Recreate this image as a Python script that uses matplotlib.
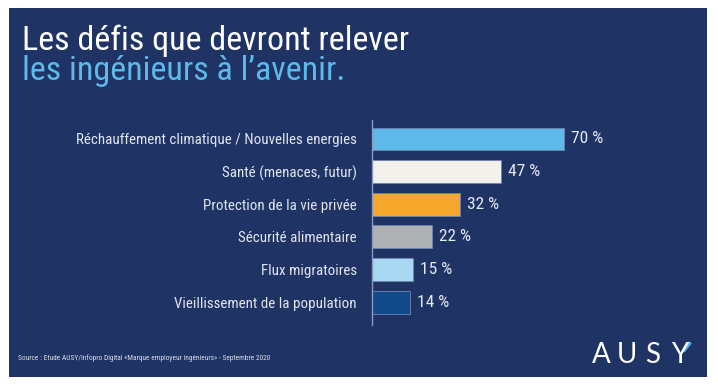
import matplotlib.pyplot as plt
from matplotlib import font_manager
from matplotlib.lines import Line2D
from matplotlib.patches import Rectangle

categories = [
    "Réchauffement climatique / Nouvelles energies",
    "Santé (menaces, futur)",
    "Protection de la vie privée",
    "Sécurité alimentaire",
    "Flux migratoires",
    "Vieillissement de la population",
]
values = [70, 47, 32, 22, 15, 14]
bar_colors = ["#5cb9e9", "#f3f1ec", "#f5a62b", "#afb0b4", "#a9d9f2", "#114a8b"]

navy = "#1f3364"
W, H = 718, 388

# pick a narrow face if one is installed
installed = {f.name for f in font_manager.fontManager.ttflist}
narrow = [n for n in ["Roboto Condensed", "Liberation Sans Narrow", "Open Sans Condensed",
                      "Roboto", "DejaVu Sans"] if n in installed][0]
font = [narrow, "DejaVu Sans"]
logo_font = "Lato" if "Lato" in installed else "DejaVu Sans"

fig = plt.figure(figsize=(W / 100, H / 100), dpi=100)
fig.patch.set_facecolor("white")
fig.patches.append(Rectangle((9 / W, 1 - 377 / H), (707 - 9) / W, (377 - 8) / H,
                             transform=fig.transFigure, facecolor=navy,
                             edgecolor="none", zorder=-5))

# axes placed in pixel coordinates of the reference
x0, x1 = 372, 372 + 100 * 2.743
y_top, y_bot = 120, 325
ax = fig.add_axes([x0 / W, 1 - y_bot / H, (x1 - x0) / W, (y_bot - y_top) / H])
ax.set_facecolor("none")

ypos = list(range(len(categories)))
ax.barh(ypos, values, height=0.7, color=bar_colors, edgecolor="#6f86b0",
        linewidth=0.6, zorder=2)
ax.set_xlim(0, 100)
ax.set_ylim(5.7, -0.58)

for y, v in zip(ypos, values):
    ax.text(v + 2.5, y, f"{v} %", va="center", ha="left", color="#e6e9f0",
            fontsize=12.5, family=font)

ax.set_yticks(ypos)
ax.set_yticklabels(categories, family=font, fontsize=10.8, color="#e1e5ee")
ax.tick_params(axis="y", length=0, pad=11)
ax.set_xticks([])
for s in ["top", "right", "bottom"]:
    ax.spines[s].set_visible(False)
ax.spines["left"].set_color("#8a9bbd")
ax.spines["left"].set_linewidth(1.0)

fig.text(22 / W, 1 - 50 / H, "Les défis que devront relever", color="white",
         fontsize=24.5, family=font, va="baseline", ha="left")
fig.text(22 / W, 1 - 80 / H, "les ingénieurs à l\u2019avenir.", color="#5cb9e9",
         fontsize=24.5, family=font, va="baseline", ha="left")

fig.text(18 / W, 1 - 358 / H,
         "Source : Etude AUSY/Infopro Digital «Marque employeur ingénieurs» - Septembre 2020",
         color="#d8dce6", fontsize=5.3, family=font, va="center", ha="left")

# logo, letters spaced out like the original
for letter, cx in zip("AUSY", [601, 627, 653, 680]):
    fig.text(cx / W, 1 - 363 / H, letter, color="white", fontsize=20,
             family=logo_font, fontweight="normal", va="baseline", ha="center")
fig.add_artist(Line2D([684.5 / W, 689.5 / W], [1 - 350 / H, 1 - 343.5 / H],
                      transform=fig.transFigure, color="#4fb3e8", linewidth=2.4))

fig.savefig("out.png", dpi=100, facecolor=fig.get_facecolor())
